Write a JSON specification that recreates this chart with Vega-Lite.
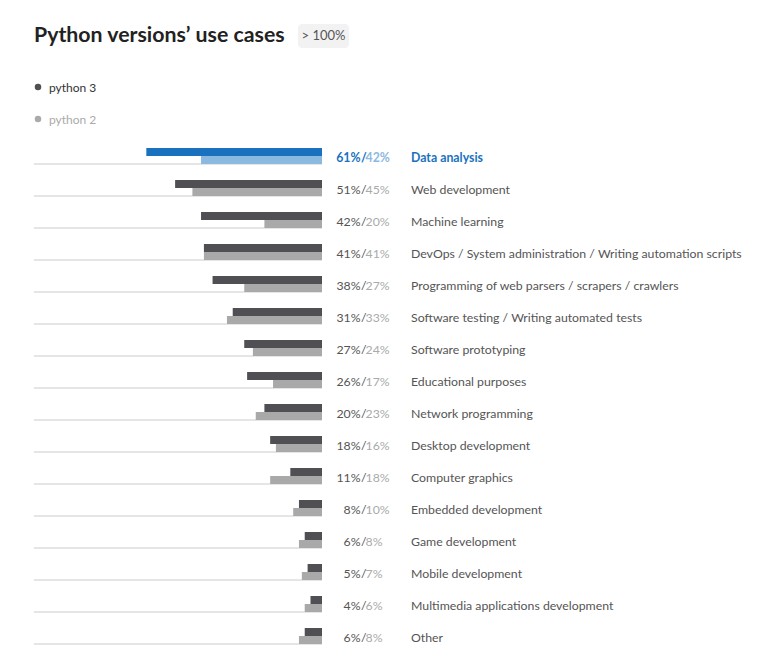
{
  "$schema": "https://vega.github.io/schema/vega-lite/v6.json",
  "padding": {"left": 33, "top": 24, "right": 0, "bottom": 0},
  "background": "white",
  "spacing": 0,
  "bounds": "flush",
  "config": {"view": {"stroke": null}, "font": "Lato"},
  "datasets": {
    "uses": [
      {"cat": "Data analysis", "version": "python 3", "value": 0.61},
      {"cat": "Data analysis", "version": "python 2", "value": 0.42},
      {"cat": "Web development", "version": "python 3", "value": 0.51},
      {"cat": "Web development", "version": "python 2", "value": 0.45},
      {"cat": "Machine learning", "version": "python 3", "value": 0.42},
      {"cat": "Machine learning", "version": "python 2", "value": 0.20},
      {"cat": "DevOps / System administration / Writing automation scripts", "version": "python 3", "value": 0.41},
      {"cat": "DevOps / System administration / Writing automation scripts", "version": "python 2", "value": 0.41},
      {"cat": "Programming of web parsers / scrapers / crawlers", "version": "python 3", "value": 0.38},
      {"cat": "Programming of web parsers / scrapers / crawlers", "version": "python 2", "value": 0.27},
      {"cat": "Software testing / Writing automated tests", "version": "python 3", "value": 0.31},
      {"cat": "Software testing / Writing automated tests", "version": "python 2", "value": 0.33},
      {"cat": "Software prototyping", "version": "python 3", "value": 0.27},
      {"cat": "Software prototyping", "version": "python 2", "value": 0.24},
      {"cat": "Educational purposes", "version": "python 3", "value": 0.26},
      {"cat": "Educational purposes", "version": "python 2", "value": 0.17},
      {"cat": "Network programming", "version": "python 3", "value": 0.20},
      {"cat": "Network programming", "version": "python 2", "value": 0.23},
      {"cat": "Desktop development", "version": "python 3", "value": 0.18},
      {"cat": "Desktop development", "version": "python 2", "value": 0.16},
      {"cat": "Computer graphics", "version": "python 3", "value": 0.11},
      {"cat": "Computer graphics", "version": "python 2", "value": 0.18},
      {"cat": "Embedded development", "version": "python 3", "value": 0.08},
      {"cat": "Embedded development", "version": "python 2", "value": 0.10},
      {"cat": "Game development", "version": "python 3", "value": 0.06},
      {"cat": "Game development", "version": "python 2", "value": 0.08},
      {"cat": "Mobile development", "version": "python 3", "value": 0.05},
      {"cat": "Mobile development", "version": "python 2", "value": 0.07},
      {"cat": "Multimedia applications development", "version": "python 3", "value": 0.04},
      {"cat": "Multimedia applications development", "version": "python 2", "value": 0.06},
      {"cat": "Other", "version": "python 3", "value": 0.06},
      {"cat": "Other", "version": "python 2", "value": 0.08}
    ],
    "header": [{"title": "Python versions’ use cases", "badge": "> 100%"}],
    "versions": [{"version": "python 3"}, {"version": "python 2"}]
  },
  "vconcat": [
    {
      "width": 315,
      "height": 24,
      "data": {"name": "header"},
      "layer": [
        {
          "mark": {"type": "rect", "fill": "#f2f2f2", "cornerRadius": 4},
          "encoding": {
            "x": {"datum": 264, "type": "quantitative", "scale": {"domain": [0, 315]}, "axis": null},
            "x2": {"datum": 315}
          }
        },
        {
          "mark": {"type": "text", "align": "center", "baseline": "alphabetic", "dy": 4, "fontSize": 13, "color": "#555555"},
          "encoding": {
            "x": {"datum": 289.5, "type": "quantitative", "scale": {"domain": [0, 315]}, "axis": null},
            "text": {"field": "badge"}
          }
        },
        {
          "mark": {"type": "text", "align": "left", "baseline": "alphabetic", "dy": 6, "fontSize": 21.3, "fontWeight": "bold", "color": "#222222"},
          "encoding": {
            "x": {"datum": 0, "type": "quantitative", "scale": {"domain": [0, 315]}, "axis": null},
            "text": {"field": "title"}
          }
        }
      ]
    },
    {
      "width": 8,
      "height": 92,
      "data": {"name": "versions"},
      "encoding": {
        "y": {"field": "version", "type": "nominal", "sort": ["python 3", "python 2"], "scale": {"type": "point", "padding": 0.9375, "align": 0.65}, "axis": null}
      },
      "layer": [
        {
          "mark": {"type": "point", "filled": true, "shape": "circle", "size": 42, "opacity": 1},
          "encoding": {
            "color": {"condition": {"test": "datum.version === 'python 3'", "value": "#4f4f54"}, "value": "#aaaaaa"}
          }
        },
        {
          "mark": {"type": "text", "align": "left", "baseline": "middle", "dx": 11, "fontSize": 12, "dy": 0.5},
          "encoding": {
            "text": {"field": "version"},
            "color": {"condition": {"test": "datum.version === 'python 3'", "value": "#333333"}, "value": "#aaaaaa"}
          }
        }
      ]
    },
    {
      "width": 288,
      "height": 512,
      "data": {"name": "uses"},
      "encoding": {
        "y": {"field": "cat", "type": "nominal", "sort": null, "scale": {"paddingInner": 0.5, "paddingOuter": 0.25}, "axis": null}
      },
      "layer": [
        {
          "transform": [{"filter": "datum.version === 'python 3'"}],
          "mark": {"type": "rule", "color": "#cccccc", "strokeWidth": 1},
          "encoding": {
            "x": {"datum": 0, "type": "quantitative", "scale": {"domain": [0, 1], "reverse": true}, "axis": null},
            "x2": {"datum": 1},
            "y": {"field": "cat", "type": "nominal", "sort": null, "bandPosition": 1, "axis": null}
          }
        },
        {
          "mark": {"type": "bar"},
          "encoding": {
            "x": {"field": "value", "type": "quantitative", "scale": {"domain": [0, 1], "reverse": true}, "axis": null},
            "yOffset": {"field": "version", "type": "nominal", "sort": ["python 3", "python 2"], "scale": {"paddingInner": 0, "paddingOuter": 0}},
            "color": {
              "field": "version",
              "type": "nominal",
              "scale": {"domain": ["python 3", "python 2"], "range": ["#4f4f54", "#a9a9a9"]},
              "legend": null,
              "condition": [
                {"test": "datum.cat === 'Data analysis' && datum.version === 'python 3'", "value": "#1a72bf"},
                {"test": "datum.cat === 'Data analysis' && datum.version === 'python 2'", "value": "#8cb9e0"}
              ]
            }
          }
        },
        {
          "transform": [{"filter": "datum.version === 'python 3' && datum.cat !== 'Data analysis'"}],
          "mark": {"type": "text", "align": "right", "baseline": "middle", "dx": 38.5, "dy": 1.5, "fontSize": 12.3, "color": "#555555"},
          "encoding": {
            "x": {"datum": 0, "type": "quantitative", "scale": {"domain": [0, 1], "reverse": true}},
            "text": {"field": "value", "type": "quantitative", "format": ".0%"}
          }
        },
        {
          "transform": [{"filter": "datum.version === 'python 3' && datum.cat !== 'Data analysis'"}],
          "mark": {"type": "text", "align": "left", "baseline": "middle", "dx": 39, "dy": 1.5, "fontSize": 12.3, "color": "#555555"},
          "encoding": {
            "x": {"datum": 0, "type": "quantitative", "scale": {"domain": [0, 1], "reverse": true}},
            "text": {"value": "/"}
          }
        },
        {
          "transform": [{"filter": "datum.version === 'python 2' && datum.cat !== 'Data analysis'"}],
          "mark": {"type": "text", "align": "left", "baseline": "middle", "dx": 43.5, "dy": 1.5, "fontSize": 12.3, "color": "#aaaaaa"},
          "encoding": {
            "x": {"datum": 0, "type": "quantitative", "scale": {"domain": [0, 1], "reverse": true}},
            "text": {"field": "value", "type": "quantitative", "format": ".0%"}
          }
        },
        {
          "transform": [{"filter": "datum.version === 'python 3' && datum.cat !== 'Data analysis'"}],
          "mark": {"type": "text", "align": "left", "baseline": "middle", "dx": 89, "dy": 1.5, "fontSize": 12.3, "color": "#555555"},
          "encoding": {
            "x": {"datum": 0, "type": "quantitative", "scale": {"domain": [0, 1], "reverse": true}},
            "text": {"field": "cat"}
          }
        },
        {
          "transform": [{"filter": "datum.version === 'python 3' && datum.cat === 'Data analysis'"}],
          "mark": {"type": "text", "align": "right", "baseline": "middle", "dx": 38.5, "dy": 1.5, "fontSize": 12.3, "fontWeight": "bold", "color": "#1a72bf"},
          "encoding": {
            "x": {"datum": 0, "type": "quantitative", "scale": {"domain": [0, 1], "reverse": true}},
            "text": {"field": "value", "type": "quantitative", "format": ".0%"}
          }
        },
        {
          "transform": [{"filter": "datum.version === 'python 3' && datum.cat === 'Data analysis'"}],
          "mark": {"type": "text", "align": "left", "baseline": "middle", "dx": 39, "dy": 1.5, "fontSize": 12.3, "fontWeight": "bold", "color": "#1a72bf"},
          "encoding": {
            "x": {"datum": 0, "type": "quantitative", "scale": {"domain": [0, 1], "reverse": true}},
            "text": {"value": "/"}
          }
        },
        {
          "transform": [{"filter": "datum.version === 'python 2' && datum.cat === 'Data analysis'"}],
          "mark": {"type": "text", "align": "left", "baseline": "middle", "dx": 43.5, "dy": 1.5, "fontSize": 12.3, "fontWeight": "bold", "color": "#8cb9e0"},
          "encoding": {
            "x": {"datum": 0, "type": "quantitative", "scale": {"domain": [0, 1], "reverse": true}},
            "text": {"field": "value", "type": "quantitative", "format": ".0%"}
          }
        },
        {
          "transform": [{"filter": "datum.version === 'python 3' && datum.cat === 'Data analysis'"}],
          "mark": {"type": "text", "align": "left", "baseline": "middle", "dx": 89, "dy": 1.5, "fontSize": 12.3, "fontWeight": "bold", "color": "#1a72bf"},
          "encoding": {
            "x": {"datum": 0, "type": "quantitative", "scale": {"domain": [0, 1], "reverse": true}},
            "text": {"field": "cat"}
          }
        }
      ]
    }
  ]
}
